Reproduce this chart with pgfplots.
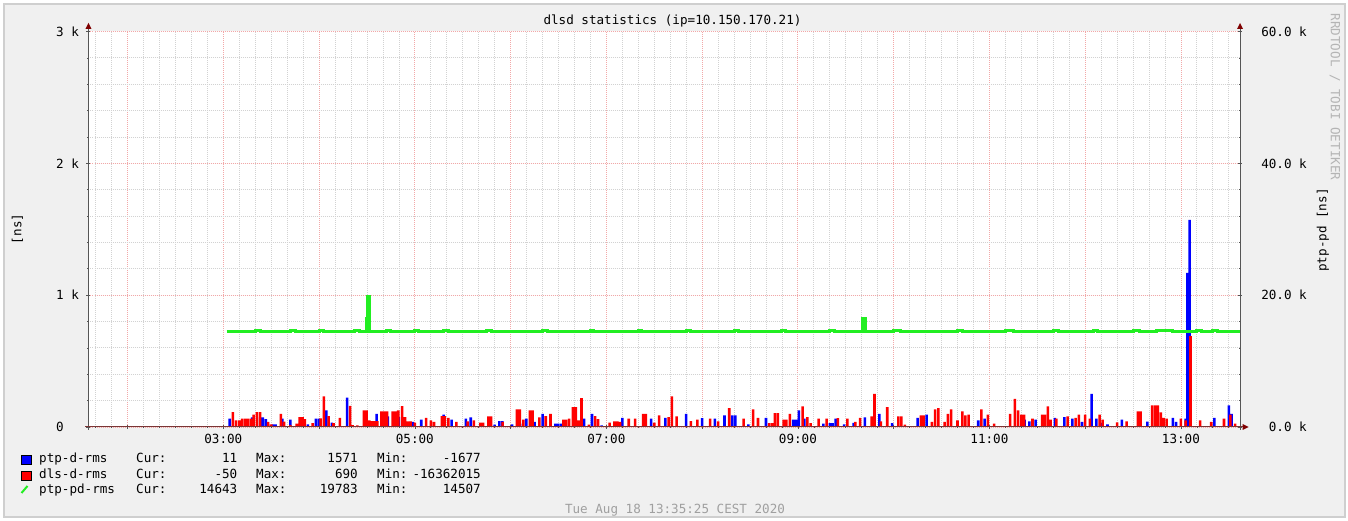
\documentclass[border=0pt]{standalone}
\usepackage{fontspec}
\setmainfont{DejaVu Sans Mono}
\usepackage{pgfplots}
\pgfplotsset{compat=1.18}
\newcommand\rf{\fontsize{12.6}{15}\selectfont}
\definecolor{bgc}{HTML}{F0F0F0}
\definecolor{shade}{HTML}{CFCFCF}
\definecolor{mgrid}{HTML}{F2A8A8}
\definecolor{ngrid}{HTML}{D2D2D2}
\definecolor{arrowc}{HTML}{7F0000}
\definecolor{axc}{HTML}{555555}
\definecolor{baxc}{HTML}{7A3535}
\definecolor{ptpblue}{HTML}{0000FF}
\definecolor{dlsred}{HTML}{FF0000}
\definecolor{pdgreen}{HTML}{22EE22}
\definecolor{wm}{HTML}{B4B4B4}
\definecolor{ft}{HTML}{A0A0A0}
\begin{document}
\begin{tikzpicture}[font=\rf]
\fill[white] (-88.5pt,-94pt) rectangle (1259.5pt,427pt);
\filldraw[fill=bgc, draw=shade, line width=2pt] (-84.5pt,-90pt) rectangle (1256.5pt,423pt);
\begin{axis}[
  at={(0pt,0pt)}, anchor=south west,
  scale only axis, width=1151.5pt, height=395.5pt,
  xmin=95.5, xmax=817, ymin=0, ymax=3000,
  axis background/.style={fill=white},
  axis line style={draw=none},
  xtick={120,180,...,780},
  xticklabels={,03:00,,05:00,,07:00,,09:00,,11:00,,13:00},
  minor xtick={100,110,...,810},
  ytick={0,1000,2000,3000},
  yticklabels={0,1 k,2 k,3 k},
  minor ytick={200,400,...,2800},
  xtick pos=left, ytick pos=left,
  grid=both,
  major grid style={mgrid, dash pattern=on 1pt off 1pt, line width=0.8pt},
  minor grid style={ngrid, dash pattern=on 1pt off 1pt, line width=0.8pt},
  tick align=center, major tick length=4pt, minor tick length=2pt,
  tick style={axc, line width=0.7pt},
  tick label style={font=\rf},
  xticklabel style={anchor=north, inner sep=0pt, yshift=-5pt},
  yticklabel style={anchor=west, inner sep=0pt, xshift=-30.5pt},
  scaled y ticks=false,
]
\addplot[ybar, bar width=1.6, bar shift=0pt, fill=ptpblue, draw=none] coordinates {
(184,63)(198,73)(203,73)(204.8,73)(206.6,60)(211,20)(212.8,20)(217,63)(222,55)(233,20)(238,63)(239.8,63)(244.6,126)(248,33)(257.6,222)
(276,100)(283,80)(290,75)(297,38)(298.8,38)(304,55)(318,93)(323,55)(332,63)(335,73)
(350,18)(353,45)(354.8,45)(361,20)(366,25)(369.8,63)(375,38)(380,100)(385,33)(388,25)(389.8,25)(391.6,25)(406,63)(411,100)(417,12)(430,70)(448,63)(457,70)(470,100)(480,68)(488,63)(494,88)(499,88)(500.8,88)
(509,20)(520,70)(537,55)(538.8,55)(540.6,126)(544,63)(556,25)(560,30)(561.8,30)(563.6,63)(569,20)(575,32)(582,73)(591,100)(599,30)(615,70)(620.6,93)(653,50)(657,63)
(682,55)(685,43)(689,55)(701,70)(707,75)(712,63)(718,38)(724,252)(727,63)(730,30)(734,20)(743,55)(759,40)(775,70)(777,38)(783,63)(784,1170)(785.5,1571)(801,70)(810,164)(811.8,100)
};
\addplot[ybar, bar width=1.6, bar shift=0pt, fill=dlsred, draw=none] coordinates {
(186,113)(188,50)(190,50)(191.8,63)(193.6,63)(195.4,63)(197.2,63)(199,93)(201,113)(203,113)(208,38)(210,20)(216,100)(218,40)(222,15)(226,25)(227.8,75)(229.6,75)(231,60)(236,30)(241,65)(243,232)(246,83)(249,30)(253,70)(259.4,160)(261,15)(264,12)(268,126)(269.8,126)(271.5,50)(273,45)(274.8,45)(276.5,45)(279,118)(280.8,118)(282.6,118)(286,118)(287.8,118)(289.6,126)(292,159)(293.8,75)(295.6,43)(297.4,43)(300,33)(307,70)(310,50)(312,38)(317,83)(318.8,83)(321,70)(326,38)(333,43)(337,50)
(341,33)(342.8,33)(346,80)(347.8,80)(355,38)(364,134)(365.8,134)(368,55)(372,126)(373.8,126)(378,73)(382,83)(385,100)(393,55)(394.8,55)(396.6,63)(399,150)(400.8,150)(402.6,50)(404.4,219)(409,18)(413,83)(414.8,60)(422,33)(425,43)(426.8,43)(428.6,38)(434,63)(438,63)(443,100)(444.8,100)(450,33)(453,88)(459,75)(461,232)(464,80)(473,45)(477,55)(485,63)(490,43)(497,143)
(506,63)(512,134)(515,70)(522,30)(523.8,30)(525.6,106)(527.4,106)(531,55)(532.8,55)(535,100)(543,156)(546,75)(548,30)(553,63)(558,63)(565,68)(571,63)(576,38)(579,70)(586.2,80)(588,252)(592,43)(596,151)(603,80)(604.8,80)(607,18)(617,88)(618.8,88)(624,38)(626,134)(628,144)(632,38)(634,100)(636,134)(640,50)(643,118)(645,88)(647,93)(655,134)(659,93)(663,25)
(673,100)(676,214)(678,126)(680,93)(681.8,93)(687,63)(693,93)(694.8,93)(696.6,156)(698.4,55)(702,63)(709,80)(714,70)(716,93)(720,93)(723,63)(729,93)(731,55)(740,35)(746,43)(753,118)(754.8,118)(762,164)(763.8,164)(765.6,164)(767.4,110)(769.2,70)(771,63)(780,63)(783,50)(786,690)(792,50)(799,38)(807,63)(811,93)(814,25)
};
\end{axis}
\begin{axis}[
  at={(0pt,0pt)}, anchor=south west,
  scale only axis, width=1151.5pt, height=395.5pt,
  xmin=95.5, xmax=817, ymin=0, ymax=60000,
  axis x line=none, axis y line*=right, axis line style={draw=none},
  ytick={0,20000,40000,60000},
  yticklabels={0.0 k,20.0 k,40.0 k,60.0 k},
  minor ytick={4000,8000,...,56000},
  scaled y ticks=false,
  tick align=center, major tick length=4pt, minor tick length=2pt,
  tick style={axc, line width=0.7pt},
  tick label style={font=\rf},
  yticklabel style={anchor=east, inner sep=0pt, xshift=65pt},
]
\addplot[const plot, pdgreen, line width=3pt] coordinates {
(182,14500)(200,14650)(203,14500)(222,14650)(225,14500)(240,14600)(243,14500)(262,14650)(265,14500)(269.5,16500)(270.1,19783)(271.4,14500)(282,14650)(285,14500)(300,14650)(302,14500)(318,14650)(321,14500)(345,14600)(348,14500)(380,14650)(383,14500)(410,14600)(412,14500)(440,14650)(442,14500)(470,14600)(473,14500)(500,14650)(503,14500)(530,14600)(532,14500)(560,14650)(563,14500)(580.6,16500)(582.2,14500)(600,14650)(604,14500)(640,14600)(643,14500)(670,14650)(675,14500)(700,14600)(703,14500)(725,14650)(728,14500)(750,14650)(754,14500)(765,14650)(775,14500)(790,14650)(793,14500)(800,14650)(803,14500)(817,14500)
};
\end{axis}
% axis lines
\draw[axc, line width=1pt] (0pt,-3pt) -- (0pt,398pt);
\fill[arrowc] (-3pt,398pt) -- (3pt,398pt) -- (0pt,404pt) -- cycle;
\draw[axc, line width=1pt] (1151.5pt,-3pt) -- (1151.5pt,398pt);
\fill[arrowc] (1148.5pt,398pt) -- (1154.5pt,398pt) -- (1151.5pt,404pt) -- cycle;
\draw[baxc, line width=1pt] (-3pt,0pt) -- (1154pt,0pt);
\fill[arrowc] (1154pt,-3pt) -- (1154pt,3pt) -- (1160pt,0pt) -- cycle;
% titles
\node at (584pt,406pt) {dlsd statistics (ip=10.150.170.21)};
\node[rotate=90] at (-71pt,198pt) {[ns]};
\node[rotate=90] at (1234.5pt,197pt) {ptp-pd [ns]};
\node[rotate=-90, wm] at (1246.5pt,330pt) {RRDTOOL / TOBI OETIKER};
\node[ft] at (586.5pt,-83pt) {Tue Aug 18 13:35:25 CEST 2020};
% legend
\filldraw[fill=ptpblue, draw=black, line width=0.6pt] (-67.5pt,-37pt) rectangle (-57.5pt,-28pt);
\filldraw[fill=dlsred, draw=black, line width=0.6pt] (-67.5pt,-53pt) rectangle (-57.5pt,-44pt);
\draw[pdgreen, line width=2pt] (-67pt,-66pt) -- (-61pt,-59pt);
\begin{scope}[every node/.style={inner sep=0pt}]
\node[anchor=mid west] at (-49.5pt,-32.5pt) {ptp-d-rms};
\node[anchor=mid west] at (47.5pt,-32.5pt) {Cur:};
\node[anchor=mid east] at (149pt,-32.5pt) {11};
\node[anchor=mid west] at (167.5pt,-32.5pt) {Max:};
\node[anchor=mid east] at (269.5pt,-32.5pt) {1571};
\node[anchor=mid west] at (288.5pt,-32.5pt) {Min:};
\node[anchor=mid east] at (392.5pt,-32.5pt) {-1677};
\node[anchor=mid west] at (-49.5pt,-48.5pt) {dls-d-rms};
\node[anchor=mid west] at (47.5pt,-48.5pt) {Cur:};
\node[anchor=mid east] at (149pt,-48.5pt) {-50};
\node[anchor=mid west] at (167.5pt,-48.5pt) {Max:};
\node[anchor=mid east] at (269.5pt,-48.5pt) {690};
\node[anchor=mid west] at (288.5pt,-48.5pt) {Min:};
\node[anchor=mid east] at (392.5pt,-48.5pt) {-16362015};
\node[anchor=mid west] at (-49.5pt,-64pt) {ptp-pd-rms};
\node[anchor=mid west] at (47.5pt,-64pt) {Cur:};
\node[anchor=mid east] at (149pt,-64pt) {14643};
\node[anchor=mid west] at (167.5pt,-64pt) {Max:};
\node[anchor=mid east] at (269.5pt,-64pt) {19783};
\node[anchor=mid west] at (288.5pt,-64pt) {Min:};
\node[anchor=mid east] at (392.5pt,-64pt) {14507};
\end{scope}
\pgfresetboundingbox
\useasboundingbox (-88.5pt,-94pt) rectangle (1259.5pt,427pt);
\end{tikzpicture}
\end{document}
